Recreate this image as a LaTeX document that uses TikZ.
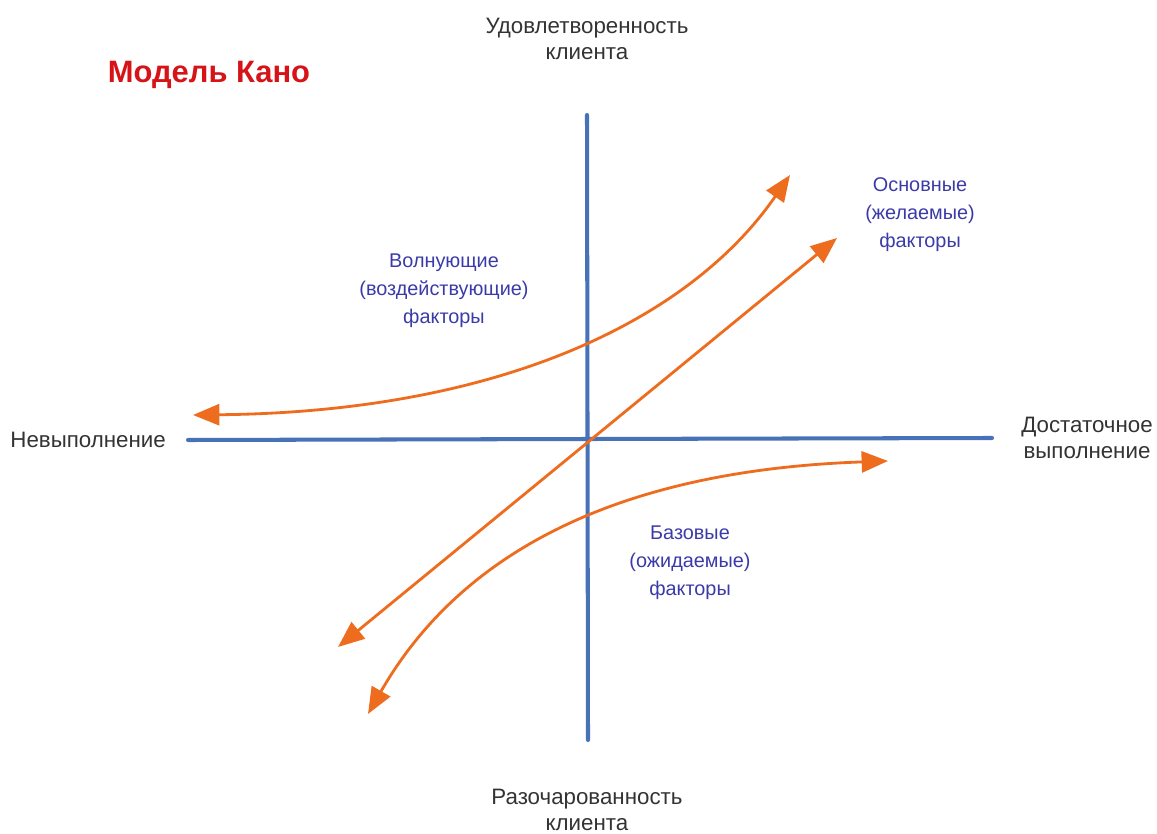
\documentclass[tikz,border=0pt]{standalone}
\usepackage{fontspec}
\setmainfont{Liberation Sans}
\usetikzlibrary{arrows.meta}
\definecolor{axisblue}{RGB}{72,114,184}
\definecolor{curveorange}{RGB}{238,108,30}
\definecolor{labelblue}{RGB}{58,58,168}
\definecolor{titlered}{RGB}{214,20,24}
\tikzset{
	axis/.style={line width=2.3pt, color=axisblue, line cap=round},
	curve/.style={line width=1.6pt, color=curveorange,
		{Triangle[length=15pt, width=12pt]}-{Triangle[length=15pt, width=12pt]}},
	caption/.style={font=\fontsize{12.7}{15}\selectfont, align=center, text=black!80},
	factor/.style={font=\fontsize{11.3}{16}\selectfont, align=center, text=labelblue}
}

\begin{document}
\begin{tikzpicture}[x=0.02cm, y=-0.02cm]
		%%%%% START %%%%%
		
		\useasboundingbox (0, 0) rectangle (1157, 834);
		
		\node[font=\fontsize{17.6}{20}\selectfont\bfseries, text=titlered] (title) at (209, 75) {Модель Кано};
		
		% axes
		\coordinate (top) at (587, 115);
		\coordinate (bottom) at (588, 740);
		\coordinate (left) at (188, 440);
		\coordinate (right) at (992, 438);
		\draw[axis] (top) -- (bottom);
		\draw[axis] (left) -- (right);
		
		\node[caption] (satisfied) at (587, 39) {Удовлетворенность\\клиента};
		\node[caption] (disappointed) at (587, 810) {Разочарованность\\клиента};
		\node[caption, anchor=east] (poor) at (172, 440) {Невыполнение};
		\node[caption] (good) at (1087, 438) {Достаточное\\выполнение};
		
		% curves
		\coordinate (exc1) at (193, 415);
		\coordinate (exc2) at (790, 175);
		\draw[curve] (exc1) .. controls (500, 412) and (690, 320) .. (exc2);
		
		\coordinate (lin1) at (338, 647);
		\coordinate (lin2) at (837, 238);
		\draw[curve] (lin1) -- (lin2);
		
		\coordinate (bas1) at (368, 714);
		\coordinate (bas2) at (888, 461);
		\draw[curve] (bas1) .. controls (465, 545) and (630, 470) .. (bas2);
		
		\node[factor] (exciting) at (444, 291) {Волнующие\\(воздействующие)\\факторы};
		\node[factor] (performance) at (920, 215) {Основные\\(желаемые)\\факторы};
		\node[factor] (basic) at (690, 563) {Базовые\\(ожидаемые)\\факторы};
		
		%%%%% END %%%%%
	\end{tikzpicture}
\end{document}
